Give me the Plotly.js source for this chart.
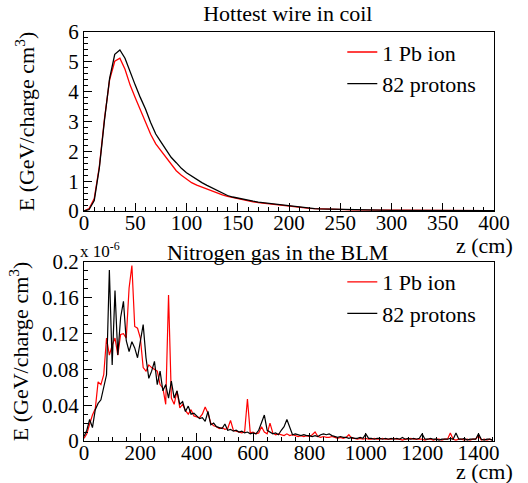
<!DOCTYPE html>
<html>
<head>
<meta charset="utf-8">
<script src="https://cdn.plot.ly/plotly-3.0.1.min.js"></script>
<style>html,body{margin:0;padding:0;background:#fff;}#chart{width:528px;height:483px;}</style>
</head>
<body>
<div id="chart"></div>
<script>
// ---- Top panel: Hottest wire in coil (z in cm, 5 cm steps) ----
const zTop = [0,5,10,15,20,25,30,35,40,45,50,55,60,65,70,75,80,85,90,95,100,105,110,115,120,125,130,135,140,145,150,155,160,165,170,175,180,185,190,195,200,205,210,215,220,225,230,235,240,245,250,255,260,265,270,275,280,285,290,295,300,305,310,315,320,325,330,335,340,345,350,355,360,365,370,375,380,385,390,395,400];
const topPb = [0,0.08,0.42,1.50,3.10,4.40,5.02,5.12,4.75,4.22,3.80,3.38,2.95,2.57,2.25,2.03,1.80,1.58,1.35,1.20,1.06,0.95,0.87,0.80,0.73,0.66,0.60,0.54,0.49,0.45,0.41,0.37,0.34,0.31,0.28,0.26,0.24,0.21,0.19,0.17,0.15,0.13,0.12,0.10,0.09,0.08,0.07,0.065,0.06,0.055,0.05,0.045,0.04,0.038,0.035,0.033,0.03,0.028,0.026,0.025,0.023,0.022,0.021,0.02,0.019,0.018,0.017,0.016,0.016,0.015,0.014,0.014,0.013,0.013,0.012,0.012,0.011,0.011,0.01,0.01,0.01];
const topP82 = [0,0.05,0.35,1.45,3.05,4.45,5.25,5.40,5.12,4.65,4.22,3.80,3.42,2.97,2.58,2.32,2.05,1.80,1.62,1.43,1.28,1.16,1.04,0.95,0.86,0.77,0.69,0.61,0.52,0.47,0.43,0.39,0.36,0.33,0.30,0.28,0.25,0.23,0.20,0.18,0.16,0.14,0.12,0.11,0.09,0.08,0.07,0.065,0.06,0.055,0.05,0.045,0.04,0.038,0.035,0.033,0.03,0.028,0.026,0.025,0.023,0.022,0.021,0.02,0.019,0.018,0.017,0.016,0.016,0.015,0.014,0.014,0.013,0.013,0.012,0.012,0.011,0.011,0.01,0.01,0.01];

// ---- Bottom panel: Nitrogen gas in the BLM (z in cm, 10 cm steps; values x 1e-6) ----
const zBot = [];
for (let z = 0; z <= 1450; z += 10) zBot.push(z);
const botPb = [0.003,0.008,0.019,0.029,0.036,0.066,0.063,0.074,0.115,0.096,0.107,0.115,0.096,0.119,0.120,0.115,0.171,0.196,0.128,0.126,
0.115,0.082,0.078,0.085,0.082,0.080,0.078,0.063,0.059,0.041,0.163,0.048,0.041,0.056,0.037,0.041,0.034,0.030,0.035,0.028,
0.027,0.026,0.030,0.038,0.031,0.020,0.017,0.016,0.014,0.015,0.013,0.014,0.023,0.012,0.011,0.010,0.009,0.010,0.047,0.009,
0.010,0.008,0.009,0.016,0.010,0.008,0.020,0.009,0.007,0.008,0.007,0.006,0.008,0.006,0.007,0.006,0.005,0.006,0.005,0.006,
0.005,0.007,0.010,0.005,0.004,0.005,0.004,0.004,0.005,0.004,0.003,0.004,0.003,0.004,0.007,0.003,0.003,0.002,0.003,0.002,
0.003,0.002,0.002,0.003,0.002,0.002,0.003,0.002,0.002,0.002,0.003,0.002,0.002,0.001,0.002,0.002,0.003,0.002,0.002,0.002,
0.002,0.001,0.002,0.002,0.001,0.002,0.002,0.001,0.002,0.002,0.009,0.002,0.001,0.002,0.002,0.001,0.002,0.001,0.002,0.002,
0.006,0.001,0.002,0.001,0.002,0.001];
const botP82 = [0.005,0.012,0.024,0.015,0.035,0.042,0.046,0.062,0.074,0.191,0.085,0.168,0.096,0.138,0.156,0.112,0.100,0.111,0.104,0.093,
0.110,0.130,0.093,0.070,0.078,0.089,0.063,0.078,0.056,0.063,0.048,0.067,0.048,0.056,0.041,0.044,0.033,0.039,0.030,0.031,
0.028,0.025,0.026,0.022,0.033,0.018,0.020,0.016,0.015,0.014,0.019,0.012,0.013,0.011,0.012,0.010,0.011,0.009,0.010,0.008,
0.009,0.008,0.012,0.020,0.029,0.012,0.010,0.008,0.009,0.007,0.012,0.016,0.024,0.015,0.007,0.008,0.007,0.006,0.007,0.006,
0.006,0.005,0.006,0.005,0.007,0.008,0.007,0.008,0.006,0.005,0.004,0.005,0.004,0.004,0.003,0.004,0.003,0.003,0.004,0.003,
0.008,0.003,0.003,0.002,0.003,0.003,0.002,0.003,0.002,0.003,0.002,0.003,0.002,0.004,0.002,0.003,0.002,0.003,0.002,0.003,
0.008,0.002,0.002,0.003,0.002,0.002,0.001,0.002,0.002,0.002,0.003,0.002,0.009,0.002,0.002,0.003,0.001,0.002,0.002,0.002,
0.008,0.002,0.001,0.002,0.002,0.001];

const seriesNames = ['1 Pb ion', '82 protons'];
const seriesColors = ['#ff0000', '#000000'];

const FONT = '"Liberation Serif", "Times New Roman", serif';
const TICK_SIZE = 21;
const TEXT_SIZE = 22;

const traces = [
  {x: zTop, y: topPb, name: seriesNames[0], type: 'scatter', mode: 'lines', line: {color: seriesColors[0], width: 1.3}, xaxis: 'x', yaxis: 'y', legend: 'legend'},
  {x: zTop, y: topP82, name: seriesNames[1], type: 'scatter', mode: 'lines', line: {color: seriesColors[1], width: 1.3}, xaxis: 'x', yaxis: 'y', legend: 'legend'},
  {x: zBot, y: botPb, name: seriesNames[0], type: 'scatter', mode: 'lines', line: {color: seriesColors[0], width: 1.2}, xaxis: 'x2', yaxis: 'y2', legend: 'legend2'},
  {x: zBot, y: botP82, name: seriesNames[1], type: 'scatter', mode: 'lines', line: {color: seriesColors[1], width: 1.2}, xaxis: 'x2', yaxis: 'y2', legend: 'legend2'}
];

function axisBase() {
  return {
    showline: true, mirror: true, linecolor: '#000', linewidth: 1,
    showgrid: false, zeroline: false,
    ticks: 'inside', ticklen: 8, tickcolor: '#000', tickwidth: 1,
    tickfont: {family: FONT, size: TICK_SIZE, color: '#000'}
  };
}

const xaxis = Object.assign(axisBase(), {domain: [0, 1], anchor: 'y', range: [0, 400], dtick: 50, tick0: 0,
  ticklabelstandoff: -7,
  minor: {dtick: 10, ticklen: 4, ticks: 'inside', tickcolor: '#000'}});
const yaxis = Object.assign(axisBase(), {domain: [0.5623, 1], anchor: 'x', range: [0, 6], dtick: 1, tick0: 0,
  minor: {dtick: 0.2, ticklen: 4, ticks: 'inside', tickcolor: '#000'},
  title: {text: 'E (GeV/charge cm<sup>3</sup>)', font: {family: FONT, size: TEXT_SIZE, color: '#000'}, standoff: 27}});
const xaxis2 = Object.assign(axisBase(), {domain: [0, 1], anchor: 'y2', range: [0, 1455], dtick: 200, tick0: 0,
  ticklabelstandoff: -7,
  minor: {dtick: 50, ticklen: 4, ticks: 'inside', tickcolor: '#000'}});
const yaxis2 = Object.assign(axisBase(), {domain: [0, 0.4377], anchor: 'x2', range: [0, 0.2], dtick: 0.04, tick0: 0,
  minor: {dtick: 0.01, ticklen: 4, ticks: 'inside', tickcolor: '#000'},
  title: {text: 'E (GeV/charge cm<sup>3</sup>)', font: {family: FONT, size: TEXT_SIZE, color: '#000'}, standoff: 7}});

const layout = {
  width: 528, height: 483,
  margin: {l: 84, r: 34, t: 32, b: 42, pad: 0},
  paper_bgcolor: '#fff', plot_bgcolor: '#fff',
  font: {family: FONT, size: TEXT_SIZE, color: '#000'},
  title: {text: 'Hottest wire in coil', font: {family: FONT, size: TEXT_SIZE, color: '#000'}, x: 0.545, xanchor: 'center', y: 0.972, yanchor: 'middle'},
  xaxis: xaxis, yaxis: yaxis, xaxis2: xaxis2, yaxis2: yaxis2,
  showlegend: true,
  legend: {x: 0.63, xanchor: 'left', y: 1.002, yanchor: 'top', bgcolor: 'rgba(0,0,0,0)', borderwidth: 0,
    font: {family: FONT, size: TEXT_SIZE, color: '#000'}},
  legend2: {x: 0.63, xanchor: 'left', y: 0.44, yanchor: 'top', bgcolor: 'rgba(0,0,0,0)', borderwidth: 0,
    font: {family: FONT, size: TEXT_SIZE, color: '#000'}},
  annotations: [
    {text: 'z (cm)', xref: 'paper', yref: 'paper', x: 1.051, xanchor: 'right', y: 0.4768, yanchor: 'middle', showarrow: false,
      font: {family: FONT, size: TEXT_SIZE, color: '#000'}},
    {text: 'z (cm)', xref: 'paper', yref: 'paper', x: 1.051, xanchor: 'right', y: -0.0745, yanchor: 'middle', showarrow: false,
      font: {family: FONT, size: TEXT_SIZE, color: '#000'}},
    {text: 'Nitrogen gas in the BLM', xref: 'paper', yref: 'paper', x: 0.473, xanchor: 'center', y: 0.46, yanchor: 'middle', showarrow: false,
      font: {family: FONT, size: TEXT_SIZE, color: '#000'}},
    {text: 'x 10<sup>-6</sup>', xref: 'paper', yref: 'paper', x: -0.014, xanchor: 'left', y: 0.468, yanchor: 'middle', showarrow: false,
      font: {family: FONT, size: 17, color: '#000'}}
  ]
};

Plotly.newPlot('chart', traces, layout, {displayModeBar: false, staticPlot: true});
</script>
</body>
</html>
